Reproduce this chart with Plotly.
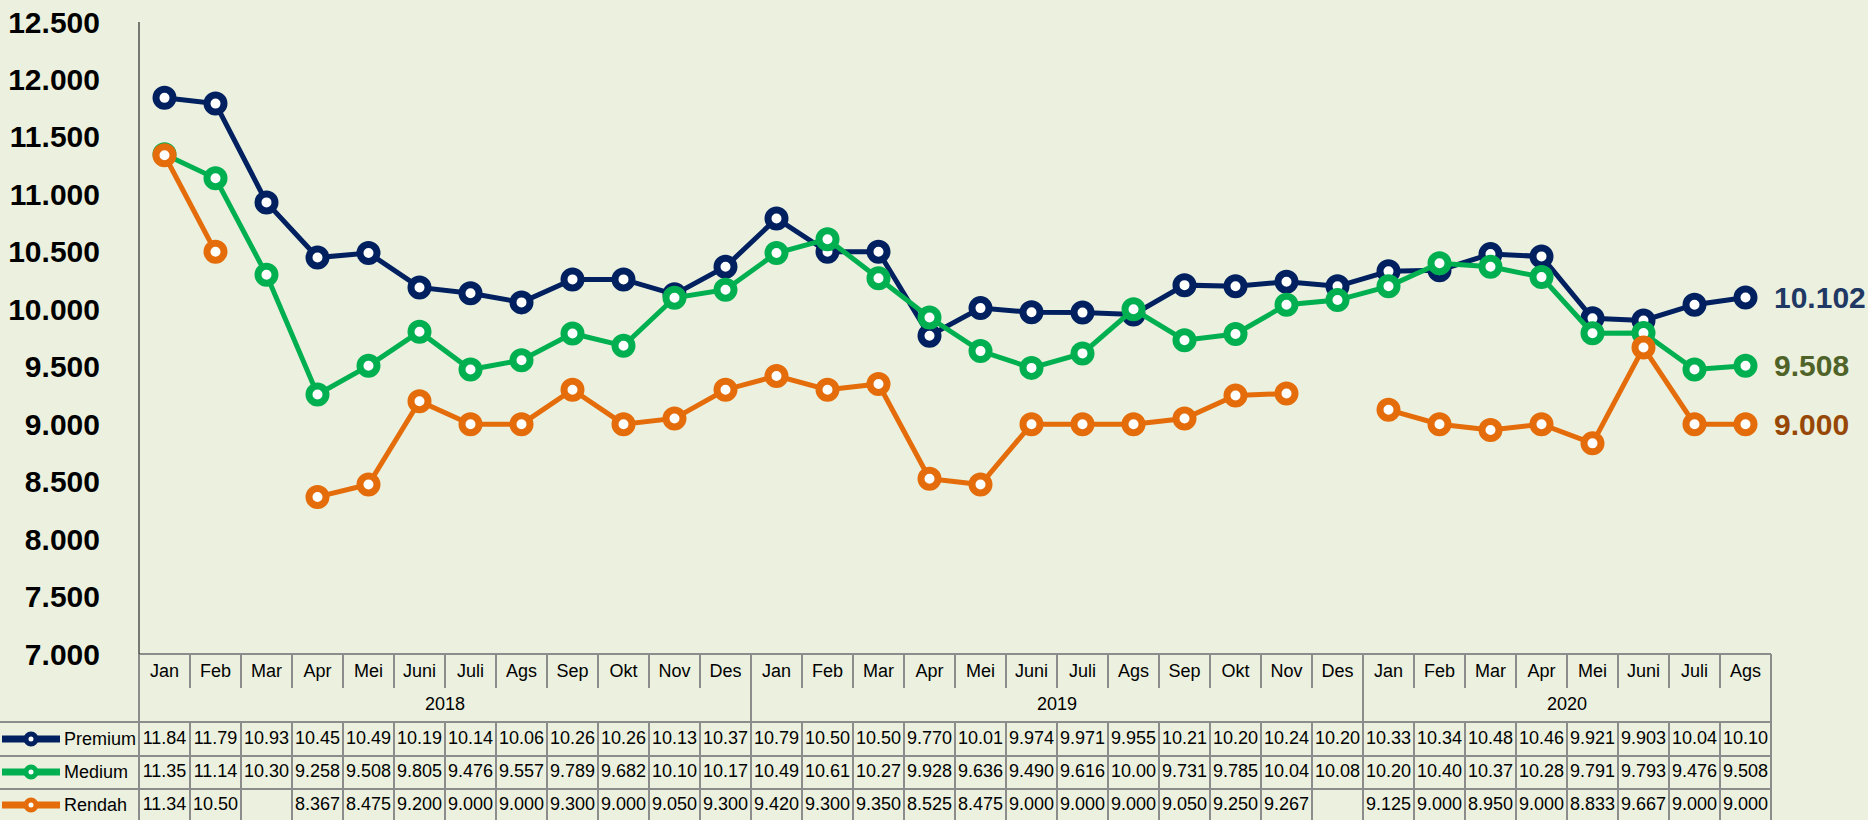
import plotly.graph_objects as go

# ---- data -------------------------------------------------------------
months = ["Jan", "Feb", "Mar", "Apr", "Mei", "Juni", "Juli", "Ags", "Sep", "Okt", "Nov", "Des",
          "Jan", "Feb", "Mar", "Apr", "Mei", "Juni", "Juli", "Ags", "Sep", "Okt", "Nov", "Des",
          "Jan", "Feb", "Mar", "Apr", "Mei", "Juni", "Juli", "Ags"]
years = ["2018", "2019", "2020"]
year_lengths = [12, 12, 8]

premium = [11.84, 11.79, 10.93, 10.45, 10.49, 10.19, 10.14, 10.06, 10.26, 10.26, 10.13, 10.37,
           10.79, 10.50, 10.50, 9.770, 10.01, 9.974, 9.971, 9.955, 10.21, 10.20, 10.24, 10.20,
           10.33, 10.34, 10.48, 10.46, 9.921, 9.903, 10.04, 10.102]
medium = [11.35, 11.14, 10.30, 9.258, 9.508, 9.805, 9.476, 9.557, 9.789, 9.682, 10.10, 10.17,
          10.49, 10.61, 10.27, 9.928, 9.636, 9.490, 9.616, 10.00, 9.731, 9.785, 10.04, 10.08,
          10.20, 10.40, 10.37, 10.28, 9.791, 9.793, 9.476, 9.508]
rendah = [11.34, 10.50, None, 8.367, 8.475, 9.200, 9.000, 9.000, 9.300, 9.000, 9.050, 9.300,
          9.420, 9.300, 9.350, 8.525, 8.475, 9.000, 9.000, 9.000, 9.050, 9.250, 9.267, None,
          9.125, 9.000, 8.950, 9.000, 8.833, 9.667, 9.000, 9.000]

series_names = ["Premium", "Medium", "Rendah"]
series_values = [premium, medium, rendah]

y_ticks = [7.0, 7.5, 8.0, 8.5, 9.0, 9.5, 10.0, 10.5, 11.0, 11.5, 12.0, 12.5]

# ---- styles -----------------------------------------------------------
line_colors = ["#002060", "#00B050", "#E46C0A"]
label_colors = ["#1F3864", "#4F6228", "#974806"]
bg = "#EBF1DE"
grid = "#8C8C8C"
font = "Liberation Sans, Arial, sans-serif"

W, H = 1868, 820
PLOT_L, PLOT_R = 139, 1771
n = len(months)
colw = (PLOT_R - PLOT_L) / n
PAD = 0.06
xs = list(range(n))

# table rows (pixels below the top of the table)
ROW_MONTH, ROW_YEAR = 18, 51
ROW_DATA = [85, 118, 151]
MONTH_END, YEAR_END = 34, 68
H_LINES = [68, 102, 135]


def fmt(v):
    if v is None:
        return ""
    return f"{v:.2f}" if v >= 10 else f"{v:.3f}"


fig = go.Figure()

# lines in the chart
for name, vals, col in zip(series_names, series_values, line_colors):
    fig.add_trace(go.Scatter(
        x=xs, y=vals, mode="lines+markers", name=name,
        line=dict(color=col, width=5),
        marker=dict(symbol="circle", size=17, color="white", line=dict(color=col, width=7)),
        showlegend=False, hoverinfo="skip"))

# end labels
for vals, col in zip(series_values, label_colors):
    fig.add_annotation(x=xs[-1], y=vals[-1], xref="x", yref="y", text=f"{vals[-1]:.3f}",
                       showarrow=False, xanchor="left", xshift=26,
                       font=dict(family=font, size=30, color=col, weight="bold"))

# ---- data table --------------------------------------------------------
tfont = dict(family=font, size=18, color="black")
fig.add_trace(go.Scatter(x=xs, y=[ROW_MONTH] * n, text=months, mode="text",
                         xaxis="x", yaxis="y2", showlegend=False, hoverinfo="skip",
                         textfont=tfont))

centers = []
start = 0
for ln in year_lengths:
    centers.append(start + (ln - 1) / 2)
    start += ln
fig.add_trace(go.Scatter(x=centers, y=[ROW_YEAR] * len(years), text=years, mode="text",
                         xaxis="x", yaxis="y2", showlegend=False, hoverinfo="skip",
                         textfont=tfont))

for vals, ry in zip(series_values, ROW_DATA):
    fig.add_trace(go.Scatter(x=xs, y=[ry] * n, text=[fmt(v) for v in vals], mode="text",
                             xaxis="x", yaxis="y2", showlegend=False, hoverinfo="skip",
                             textfont=tfont))

# legend keys in the table
for name, col, ry in zip(series_names, line_colors, ROW_DATA):
    fig.add_trace(go.Scatter(x=[2, 60], y=[ry, ry], mode="lines", xaxis="x2", yaxis="y2",
                             line=dict(color=col, width=7), showlegend=False, hoverinfo="skip"))
    fig.add_trace(go.Scatter(x=[31], y=[ry], mode="markers", xaxis="x2", yaxis="y2",
                             marker=dict(size=10, color="white", line=dict(color=col, width=5)),
                             showlegend=False, hoverinfo="skip"))
    fig.add_annotation(x=62, y=ry, xref="x2", yref="y2", text=name, showarrow=False,
                       xanchor="left", font=tfont)

# table grid
shapes = []
year_bounds = [-0.5]
for ln in year_lengths:
    year_bounds.append(year_bounds[-1] + ln)
for i in range(n + 1):
    b = i - 0.5
    if b in year_bounds:
        shapes.append(dict(type="line", xref="x", yref="y2", x0=b, x1=b, y0=0, y1=166,
                           line=dict(color=grid, width=2)))
    else:
        shapes.append(dict(type="line", xref="x", yref="y2", x0=b, x1=b, y0=0, y1=MONTH_END,
                           line=dict(color=grid, width=2)))
        shapes.append(dict(type="line", xref="x", yref="y2", x0=b, x1=b, y0=YEAR_END, y1=166,
                           line=dict(color=grid, width=2)))
shapes.append(dict(type="line", xref="x", yref="y2", x0=-0.5, x1=n - 0.5, y0=0, y1=0,
                   line=dict(color=grid, width=2)))
for hy in H_LINES:
    shapes.append(dict(type="line", xref="x", yref="y2", x0=-0.5, x1=n - 0.5, y0=hy, y1=hy,
                       line=dict(color=grid, width=2)))
    shapes.append(dict(type="line", xref="x2", yref="y2", x0=0, x1=PLOT_L, y0=hy, y1=hy,
                       line=dict(color=grid, width=2)))
# value axis line
shapes.append(dict(type="line", xref="x", yref="y", x0=-0.5, x1=-0.5, y0=7, y1=12.5,
                   line=dict(color="black", width=1)))

fig.update_layout(
    width=W, height=H,
    margin=dict(l=0, r=0, t=0, b=0, pad=0),
    paper_bgcolor=bg, plot_bgcolor="rgba(0,0,0,0)",
    shapes=shapes,
    xaxis=dict(domain=[(PLOT_L - PAD * colw) / W, (PLOT_R + PAD * colw) / W],
               range=[-0.5 - PAD, n - 0.5 + PAD], visible=False, fixedrange=True),
    yaxis=dict(domain=[(H - 654) / H, (H - 22) / H], range=[7, 12.5],
               tickvals=y_ticks, tickformat=".3f", ticks="outside", ticklen=29,
               tickcolor="rgba(0,0,0,0)", showgrid=False,
               zeroline=False, showline=False, automargin=False,
               tickfont=dict(family=font, size=30, color="black", weight="bold")),
    xaxis2=dict(domain=[0, PLOT_L / W], range=[0, PLOT_L], visible=False, anchor="y2"),
    yaxis2=dict(domain=[0, 168 / H], range=[166, -2], visible=False, anchor="x"),
)

fig.write_html("out.html", config={"displayModeBar": False},
               post_script="document.body.style.margin='0';"
                           "document.body.style.overflow='hidden';")
